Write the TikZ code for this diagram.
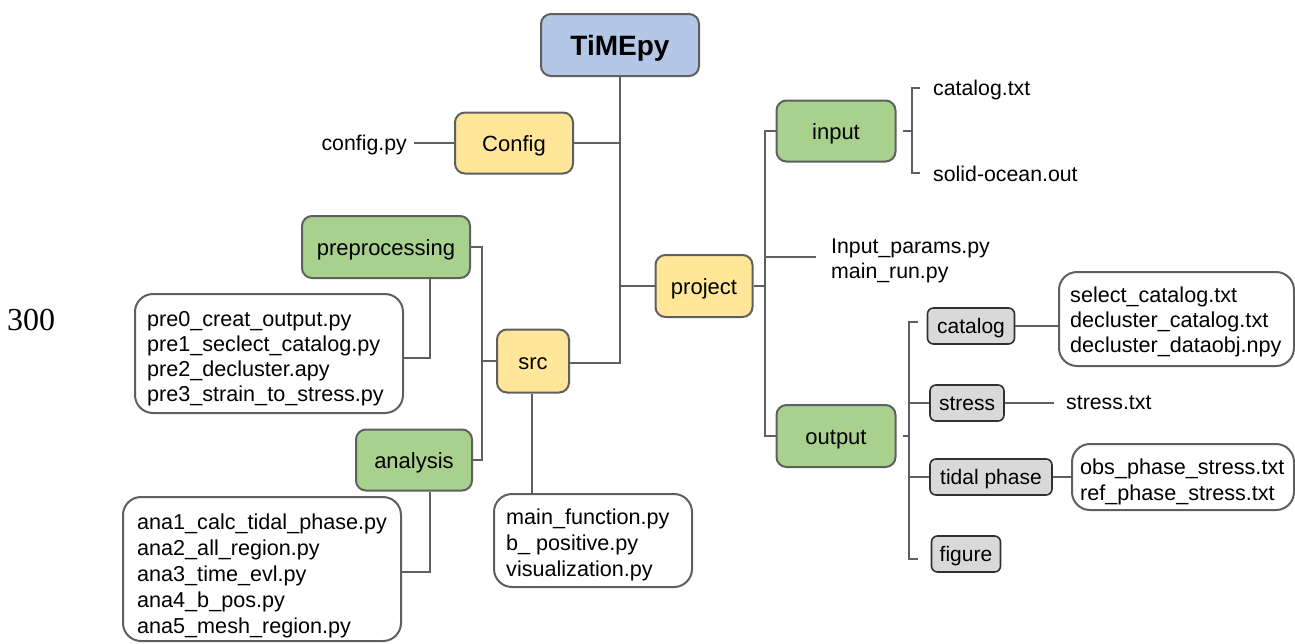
\documentclass[tikz,border=0pt]{standalone}
\usepackage{fontspec}
\setmainfont{Liberation Sans}
\newfontfamily\serifnum{Liberation Serif}
\definecolor{lc}{HTML}{5F5F5F}
\definecolor{bluef}{HTML}{B4C7E7}
\definecolor{yellowf}{HTML}{FFE699}
\definecolor{greenf}{HTML}{A9D18E}
\definecolor{grayf}{HTML}{D9D9D9}
\definecolor{grayb}{HTML}{303030}
\tikzset{
  fsn/.style={font=\fontsize{21.3}{25.5}\selectfont},
  fsl/.style={font=\fontsize{22}{26}\selectfont},
  cbox/.style={draw=lc, line width=2, rounded corners=10, fsl, inner sep=0, text=black, text height=16, text depth=0},
  rootbox/.style={cbox, fill=bluef, font=\fontsize{28}{32}\selectfont\bfseries, text height=20, minimum width=158, minimum height=62},
  ybox/.style={cbox, fill=yellowf},
  gbox/.style={cbox, fill=greenf},
  graybox/.style={draw=grayb, line width=1.6, rounded corners=6, fill=grayf, font=\fontsize{21}{25}\selectfont, inner sep=0, text height=15, text depth=0, minimum height=36},
  filebox/.style={draw=lc, line width=2, rounded corners=18, fill=white, inner sep=0},
  filetext/.style={font=\fontsize{21.6}{25}\selectfont, align=left, inner sep=0, anchor=west},
  widetext/.style={filetext, font=\fontsize{21.6}{26}\selectfont},
  plain/.style={fsn, inner sep=0, align=left},
  conn/.style={draw=lc, line width=2.5},
}
\begin{document}
\begin{tikzpicture}[x=1pt,y=-1pt]
\useasboundingbox (0,0) rectangle (1295,643);
% nodes
\node[rootbox] (timepy) at (620,45) {TiMEpy};
\node[ybox, minimum width=118, minimum height=61] (config) at (514,143) {Config};
\node[plain, anchor=east] (configpy) at (407,145) {config.py};
\node[gbox, minimum width=168, minimum height=62] (prep) at (386,247) {preprocessing};
\node[filebox, minimum width=268, minimum height=119] (prefiles) at (269,353.5) {};
\node[filetext] (pretext) at (147,358.5)
  {pre0\_creat\_output.py\\pre1\_seclect\_catalog.py\\pre2\_decluster.apy\\pre3\_strain\_to\_stress.py};
\node[ybox, minimum width=72, minimum height=63] (src) at (533,361) {src};
\node[gbox, minimum width=116, minimum height=61] (analysis) at (414,460) {analysis};
\node[filebox, minimum width=278, minimum height=144] (anafiles) at (262,569) {};
\node[widetext] (anatext) at (137,576)
  {ana1\_calc\_tidal\_phase.py\\ana2\_all\_region.py\\ana3\_time\_evl.py\\ana4\_b\_pos.py\\ana5\_mesh\_region.py};
\node[filebox, minimum width=198, minimum height=93] (mainfiles) at (593,540.5) {};
\node[widetext] (maintext) at (506,544.5)
  {main\_function.py\\b\_ positive.py\\visualization.py};
\node[ybox, minimum width=97, minimum height=62] (project) at (704,286) {project};
\node[gbox, minimum width=119, minimum height=61] (input) at (836,131) {input};
\node[plain, anchor=west] (ip) at (831,261) {Input\_params.py\\main\_run.py};
\node[plain, anchor=west] (cattxt) at (933,90) {catalog.txt};
\node[plain, anchor=west] (solid) at (933,174) {solid-ocean.out};
\node[gbox, minimum width=119, minimum height=62] (output) at (836,436) {output};
\node[graybox, minimum width=87] (catalog) at (971,326) {catalog};
\node[graybox, minimum width=74] (stress) at (967,403) {stress};
\node[graybox, minimum width=122] (tidal) at (991,477) {tidal phase};
\node[graybox, minimum width=69] (figure) at (966,554) {figure};
\node[filebox, minimum width=235, minimum height=94] (catfiles) at (1176.5,319) {};
\node[filetext] (cattext) at (1070,322)
  {select\_catalog.txt\\decluster\_catalog.txt\\decluster\_dataobj.npy};
\node[plain, anchor=west] (stresstxt) at (1066,403) {stress.txt};
\node[filebox, minimum width=222, minimum height=66] (tidalfiles) at (1183,477) {};
\node[widetext] (tidaltext) at (1080,481.5)
  {obs\_phase\_stress.txt\\ref\_phase\_stress.txt};
\node[font=\serifnum\fontsize{32}{36}\selectfont, inner sep=0] (num) at (31,320) {300};
% coordinates
\coordinate (tb) at (620,363);
\coordinate (lb) at (482,0);
\coordinate (rb) at (765,0);
\coordinate (ib) at (912,0);
\coordinate (ob) at (909,0);
\coordinate (obtop) at (918,322);
\coordinate (obbot) at (918,559);
\path ([yshift=-4.5]prefiles.east) coordinate (prej);
\path ([yshift=-3]anafiles.east) coordinate (anaj);
\path ([yshift=4]ip.west) coordinate (ipj);
\path ([yshift=2]cattxt.west) coordinate (catj);
\path ([yshift=1]solid.west) coordinate (solj);
% connectors: trunk
\draw[conn] (timepy.south) -- (tb) -- (tb -| src.east);
\draw[conn] (config.east) -- (config.east -| timepy.south);
\draw[conn] (project.west) -- (project.west -| timepy.south);
\draw[conn, shorten <=7] (configpy.east |- config.west) -- (config.west);
% left bracket
\draw[conn] (prep.east) -- (prep.east -| lb) -- (analysis.east -| lb) -- (analysis.east);
\draw[conn] (src.west) -- (src.west -| lb);
\draw[conn] ([xshift=44]prep.south) |- (prej);
\draw[conn] ([xshift=16]analysis.south) |- (anaj);
\draw[conn] (src.south -| 532,0) -- (mainfiles.north -| 532,0);
% right side
\draw[conn] (project.east) -- (project.east -| rb);
\draw[conn] (input.west) -- (input.west -| rb) -- (output.west -| rb) -- (output.west);
\draw[conn, shorten >=15] (ipj -| rb) -- (ipj);
\draw[conn] ([xshift=6]input.east) -- (input.east -| ib);
\draw[conn, shorten <=13, shorten >=13] (catj) -- (catj -| ib) -- (solj -| ib) -- (solj);
\draw[conn] ([xshift=6]output.east) -- (output.east -| ob);
\draw[conn] (obtop) -- (obtop -| ob) -- (obbot -| ob) -- (obbot);
\draw[conn] (stress.west) -- (stress.west -| ob);
\draw[conn] (tidal.west) -- (tidal.west -| ob);
\draw[conn] (catalog.east) -- (catfiles.west |- catalog.east);
\draw[conn, shorten >=12] (stress.east) -- (stresstxt.west |- stress.east);
\draw[conn] (tidal.east) -- (tidalfiles.west);
\end{tikzpicture}
\end{document}
